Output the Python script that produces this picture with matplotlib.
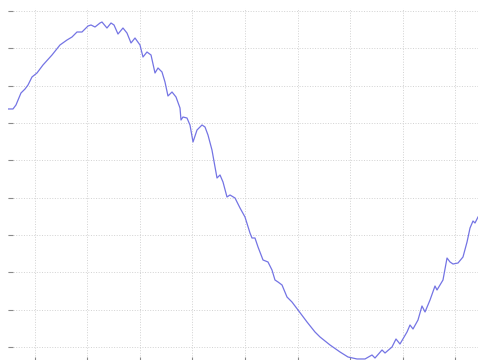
"""Recreate a cropped sine-like signal plot with ripples."""

import matplotlib

matplotlib.use("Agg")
import matplotlib.pyplot as plt

# signal samples, x and y in grid units (one unit per grid cell)
x_vals = [
    -0.514, -0.419, -0.362, -0.267, -0.190, -0.133, -0.057, 0.038, 0.152,
    0.324, 0.476, 0.610, 0.705, 0.800, 0.895, 1.010, 1.067, 1.143, 1.238,
    1.276, 1.371, 1.448, 1.505, 1.581, 1.676, 1.752, 1.829, 1.905, 2.000,
    2.057, 2.133, 2.210, 2.286, 2.343, 2.419, 2.476, 2.533, 2.610, 2.686,
    2.762, 2.781, 2.819, 2.895, 2.952, 3.010, 3.086, 3.181, 3.238, 3.295,
    3.371, 3.429, 3.467, 3.524, 3.581, 3.657, 3.714, 3.810, 3.905, 4.000,
    4.095, 4.133, 4.190, 4.248, 4.343, 4.438, 4.514, 4.571, 4.629, 4.705,
    4.800, 4.895, 5.010, 5.181, 5.333, 5.429, 5.619, 5.810, 5.962, 6.133,
    6.286, 6.419, 6.476, 6.610, 6.667, 6.800, 6.876, 6.952, 7.086, 7.143,
    7.200, 7.295, 7.371, 7.429, 7.524, 7.619, 7.657, 7.771, 7.848, 7.905,
    7.962, 8.057, 8.152, 8.229, 8.286, 8.343, 8.381, 8.438,
]
y_vals = [
    6.376, 6.376, 6.483, 6.804, 6.911, 7.018, 7.233, 7.340, 7.554,
    7.822, 8.090, 8.224, 8.304, 8.438, 8.438, 8.599, 8.626, 8.572, 8.679,
    8.706, 8.545, 8.679, 8.626, 8.384, 8.545, 8.411, 8.144, 8.277, 8.090,
    7.768, 7.902, 7.822, 7.340, 7.474, 7.367, 7.099, 6.724, 6.831, 6.697,
    6.402, 6.081, 6.161, 6.134, 5.947, 5.492, 5.813, 5.947, 5.894, 5.679,
    5.277, 4.822, 4.527, 4.608, 4.420, 4.018, 4.072, 3.991, 3.724, 3.482,
    3.054, 2.920, 2.920, 2.679, 2.331, 2.277, 2.063, 1.795, 1.741, 1.661,
    1.339, 1.205, 0.991, 0.670, 0.402, 0.268, 0.054, -0.134, -0.268, -0.321,
    -0.321, -0.214, -0.295, -0.080, -0.161, 0.000, 0.214, 0.080, 0.402, 0.589,
    0.482, 0.723, 1.098, 0.938, 1.259, 1.634, 1.527, 1.795, 2.384, 2.277,
    2.223, 2.250, 2.411, 2.813, 3.188, 3.375, 3.322, 3.482,
]

x_ticks = [0, 1, 2, 3, 4, 5, 6, 7, 8]
y_ticks = [0, 1, 2, 3, 4, 5, 6, 7, 8, 9]

fig = plt.figure(figsize=(4.78, 3.60), dpi=100)
ax = fig.add_axes([8 / 478, -2 / 360, 472 / 478, 354 / 360])

ax.plot(x_vals, y_vals, color="#7474e4", linewidth=0.9)

ax.set_xlim(-0.514, 8.476)
ax.set_ylim(-0.402, 9.081)
ax.set_xticks(x_ticks)
ax.set_yticks(y_ticks)
ax.tick_params(
    direction="in", length=3.6, width=0.8, color="#8a8a8a",
    labelleft=False, labelbottom=False,
)
ax.grid(True, color="#d2d2d2", linestyle=":", linewidth=0.7)
for spine in ax.spines.values():
    spine.set_visible(False)

fig.savefig("out.png", dpi=100)
